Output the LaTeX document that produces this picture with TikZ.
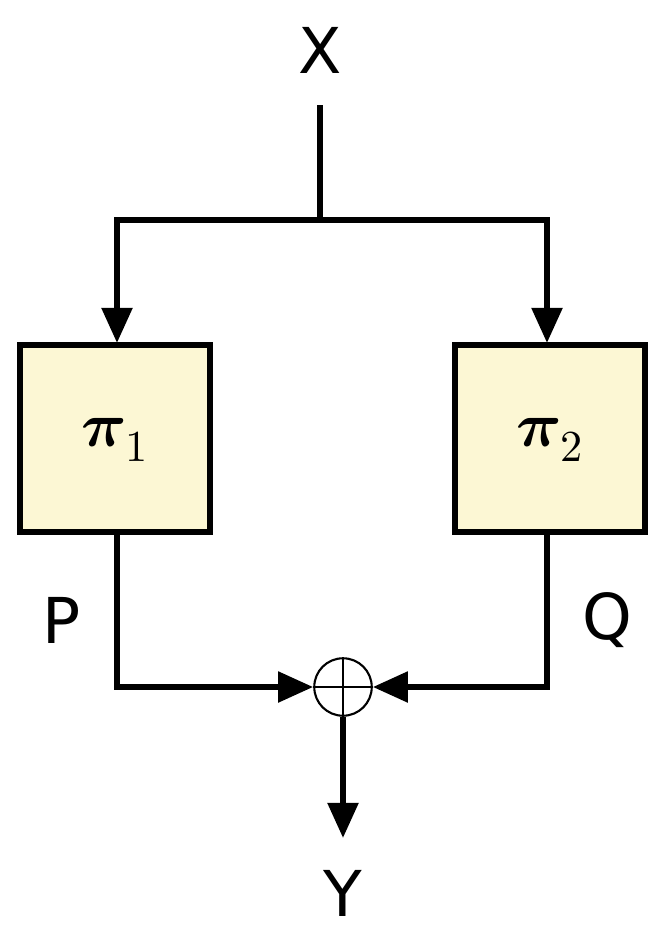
\documentclass[tikz,border=0pt]{standalone}
\usepackage{fontspec}
\setmainfont{DejaVu Sans}
\usepackage{unicode-math}
\usetikzlibrary{arrows.meta}
\begin{document}
\begin{tikzpicture}[x=0.02cm,y=-0.02cm,
  ln/.style={line width=3.4pt},
  arr/.style={ln,-{Triangle[length=20pt,width=17pt]}},
  box/.style={draw,line width=3.4pt,fill=yellow!10!white,fill=cream,minimum width=185\pgflinewidth,inner sep=0},
  lbl/.style={font=\fontsize{36}{40}\selectfont}]
\definecolor{cream}{RGB}{252,247,212}
\useasboundingbox (0,0) rectangle (672,944);
\node[lbl] (x) at (320,50) {X};
\node[lbl] (y) at (343,893) {Y};
\node[lbl] (p) at (62,620) {P};
\node[lbl] (q) at (607,620) {Q};
\draw[ln,fill=cream] (20,345) rectangle (210,532);
\draw[ln,fill=cream] (455,345) rectangle (645,532);
\node[lbl] (b1) at (115,440) {$\symbfit{\pi}_1$};
\node[lbl] (b2) at (550,440) {$\symbfit{\pi}_2$};
\node[circle,draw,line width=1.2pt,minimum size=58\pgflinewidth,inner sep=0,minimum size=1.15cm] (s) at (343,687) {};
\draw[line width=1.2pt] (s.north) -- (s.south) (s.west) -- (s.east);
\coordinate (t) at (320,105);
\coordinate (m) at (320,220);
\draw[ln] (t) -- (m);
\draw[arr] (m) -| (117,343);
\draw[arr] (m) -| (547,343);
\draw[arr] (117,534) |- (s.west);
\draw[arr] (547,534) |- (s.east);
\draw[arr] (s.south) -- (343,838);
\end{tikzpicture}
\end{document}
